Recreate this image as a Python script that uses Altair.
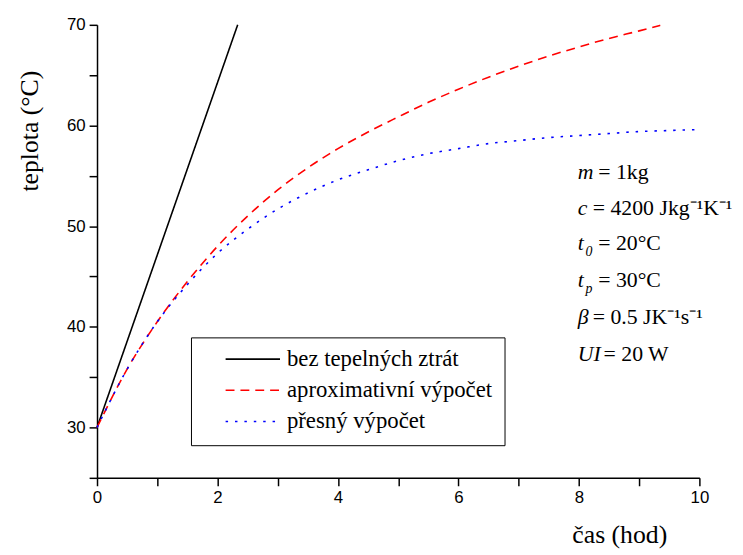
import altair as alt
import pandas as pd

# ---- data ----
series = ["bez tepelných ztrát", "aproximativní výpočet", "přesný výpočet"]

t_lin = [0.0, 2.335]
T_lin = [30.0, 70.0]

t_apx = [0, 0.5, 1, 1.5, 2, 2.5, 3, 3.5, 4, 4.5, 5, 5.5, 6, 6.5, 7, 7.5, 8, 8.5, 9, 9.35]
T_apx = [30.0, 35.8, 40.5, 44.5, 48.0, 51.0, 53.6, 55.8, 57.7, 59.35, 60.85, 62.3, 63.6,
         64.8, 65.9, 66.9, 67.8, 68.65, 69.4, 69.95]

t_exa = [0, 0.5, 1, 1.5, 2, 2.5, 3, 3.5, 4, 4.5, 5, 5.5, 6, 6.5, 7, 7.5, 8, 8.5, 9, 9.5, 10]
T_exa = [30.0, 35.8, 40.5, 44.2, 47.3, 49.7, 51.7, 53.3, 54.6, 55.6, 56.5, 57.2, 57.7,
         58.2, 58.5, 58.8, 59.0, 59.2, 59.4, 59.5, 59.6]

x_ticks = list(range(0, 11))
y_ticks = list(range(25, 71, 5))

ann_var = ["m", "c", "t", "t", "β", "UI"]
ann_rest = ["= 1kg", "= 4200 Jkg⁻¹K⁻¹", "= 20°C", "= 30°C", "= 0.5 JK⁻¹s⁻¹", "= 20 W"]
ann_y = [54.67, 51.13, 47.59, 43.96, 40.32, 36.59]
ann_var_x = [7.98] * 6
ann_rest_x = [8.32, 8.23, 8.32, 8.32, 8.23, 8.41]
sub_txt = ["0", "p"]
sub_x = [8.11, 8.11]
sub_y = [47.0, 43.4]

# ---- tables ----
rows = []
for t, v in zip(t_lin, T_lin):
    rows.append({"t": t, "T": v, "s": series[0]})
for t, v in zip(t_apx, T_apx):
    rows.append({"t": t, "T": v, "s": series[1]})
for t, v in zip(t_exa, T_exa):
    rows.append({"t": t, "T": v, "s": series[2]})
df = pd.DataFrame(rows)

ann_df = pd.DataFrame({"xv": ann_var_x, "xr": ann_rest_x, "y": ann_y,
                       "var": ann_var, "rest": ann_rest})
sub_df = pd.DataFrame({"x": sub_x, "y": sub_y, "txt": sub_txt})

xscale = alt.Scale(domain=[0, 10], nice=False)
yscale = alt.Scale(domain=[25, 70], nice=False, zero=False)

leg = alt.Legend(title=None, orient="none", legendX=95, legendY=316)

lines = alt.Chart(df).mark_line(strokeWidth=1.6, interpolate="monotone").encode(
    x=alt.X("t:Q", scale=xscale, axis=alt.Axis(
        values=x_ticks, format="d",
        labelExpr="datum.value % 2 == 0 ? datum.label : ''",
        title="čas (hod)", titleFont="Liberation Serif", titleFontSize=26,
        titleFontWeight="normal", titleColor="black",
        titleX=528, titleY=65, titleAlign="center", titleBaseline="alphabetic",
        labelFont="Liberation Sans", labelFontSize=17, labelColor="black",
        labelPadding=4, labelFlush=False, labelOverlap=False,
    )),
    y=alt.Y("T:Q", scale=yscale, axis=alt.Axis(
        values=y_ticks, format="d",
        labelExpr="(datum.value % 10 == 0 && datum.value > 25) ? datum.label : ''",
        title="teplota (°C)", titleFont="Liberation Serif", titleFontSize=26,
        titleFontWeight="normal", titleColor="black", titleAngle=270,
        titleX=-60, titleY=107, titleAlign="center", titleBaseline="alphabetic",
        labelFont="Liberation Sans", labelFontSize=17, labelColor="black",
        labelPadding=4, labelOverlap=False,
    )),
    color=alt.Color("s:N", scale=alt.Scale(domain=series, range=["#000000", "#ff0000", "#0000ff"]), legend=leg),
    strokeDash=alt.StrokeDash("s:N", scale=alt.Scale(domain=series, range=[[1, 0], [9, 6], [2.5, 7]]), legend=leg),
)

var_txt = alt.Chart(ann_df).mark_text(
    font="Liberation Serif", fontSize=22, fontStyle="italic", align="left",
    baseline="alphabetic", color="black"
).encode(x=alt.X("xv:Q", scale=xscale), y=alt.Y("y:Q", scale=yscale), text="var:N")

rest_txt = alt.Chart(ann_df).mark_text(
    font="Liberation Serif", fontSize=22, align="left", baseline="alphabetic", color="black"
).encode(x=alt.X("xr:Q", scale=xscale), y=alt.Y("y:Q", scale=yscale), text="rest:N")

sub_mark = alt.Chart(sub_df).mark_text(
    font="Liberation Serif", fontSize=14, fontStyle="italic", align="left",
    baseline="alphabetic", color="black"
).encode(x=alt.X("x:Q", scale=xscale), y=alt.Y("y:Q", scale=yscale), text="txt:N")

chart = alt.layer(lines, var_txt, rest_txt, sub_mark).properties(
    width=609, height=458,
    autosize=alt.AutoSizeParams(type="none"),
    padding={"left": 90, "top": 14, "right": 36, "bottom": 75},
    background="white",
).configure_view(stroke=None).configure_axis(
    grid=False, domainColor="black", domainWidth=1.5,
    tickColor="black", tickWidth=1.5, tickSize=8,
).configure_legend(
    fillColor="white", strokeColor="black", padding=12,
    symbolType="stroke", symbolSize=3025, symbolStrokeWidth=1.6,
    symbolOffset=22, clipHeight=20, rowPadding=8.5, labelOffset=6,
    labelFont="Liberation Serif", labelFontSize=23, labelColor="black",
    labelLimit=400,
)

chart.save("out.html", embed_options={"renderer": "svg", "actions": False})
